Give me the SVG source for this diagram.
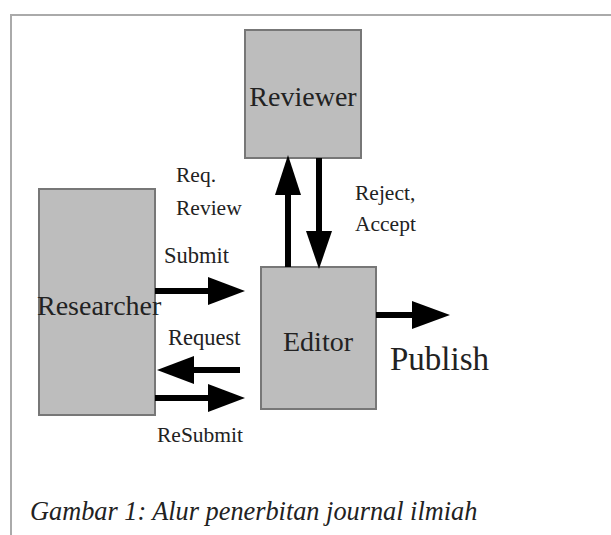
<svg xmlns="http://www.w3.org/2000/svg" width="611" height="535" viewBox="0 0 611 535">
<style>
.box{fill:#bdbdbd;stroke:#777;stroke-width:2}
.lbl{font-family:'Liberation Serif','Times New Roman',Times,serif;fill:#222}
.s{font-size:21.5px}
.big{font-size:28px}
.ln{stroke:#000;stroke-width:6;fill:none}
.hd{fill:#000}
</style>
<rect width="611" height="535" fill="#fff"/>
<path d="M11,535 V15 H611" fill="none" stroke="#aaa" stroke-width="2"/>
<g id="reviewer"><rect class="box" x="245" y="30" width="116" height="128"/><text class="lbl big" x="303" y="106" text-anchor="middle">Reviewer</text></g>
<g id="researcher"><rect class="box" x="39" y="189" width="116" height="226"/><text class="lbl big" font-size="27.3" x="37" y="315">Researcher</text></g>
<g id="editor"><rect class="box" x="261" y="267" width="115" height="142"/><text class="lbl big" x="318" y="351" text-anchor="middle">Editor</text></g>
<g id="connectors">
<line class="ln" x1="288" y1="267" x2="288" y2="190"/><polygon class="hd" points="288,155 275,195 301,195"/>
<line class="ln" x1="319" y1="158" x2="319" y2="235"/><polygon class="hd" points="319,269 306,231 332,231"/>
<line class="ln" x1="155" y1="291" x2="212" y2="291"/><polygon class="hd" points="245,291 208,277 208,305"/>
<line class="ln" x1="240" y1="370" x2="190" y2="370"/><polygon class="hd" points="157,370 194,356 194,384"/>
<line class="ln" x1="155" y1="398" x2="212" y2="398"/><polygon class="hd" points="245,398 208,384 208,412"/>
<line class="ln" x1="376" y1="315" x2="415" y2="315"/><polygon class="hd" points="450,315 412,301 412,329"/>
</g>
<text class="lbl s" x="176" y="182">Req.</text>
<text class="lbl s" x="176" y="215">Review</text>
<text class="lbl s" style="font-size:22.5px" x="164" y="263">Submit</text>
<text class="lbl s" style="font-size:22.5px" x="168" y="345">Request</text>
<text class="lbl s" x="157" y="442">ReSubmit</text>
<text class="lbl s" x="355" y="200">Reject,</text>
<text class="lbl s" x="355" y="231">Accept</text>
<text class="lbl" font-size="33" x="390" y="370">Publish</text>
<text class="lbl" font-size="26.3" font-style="italic" x="30" y="520">Gambar 1: Alur penerbitan journal ilmiah</text>
</svg>
